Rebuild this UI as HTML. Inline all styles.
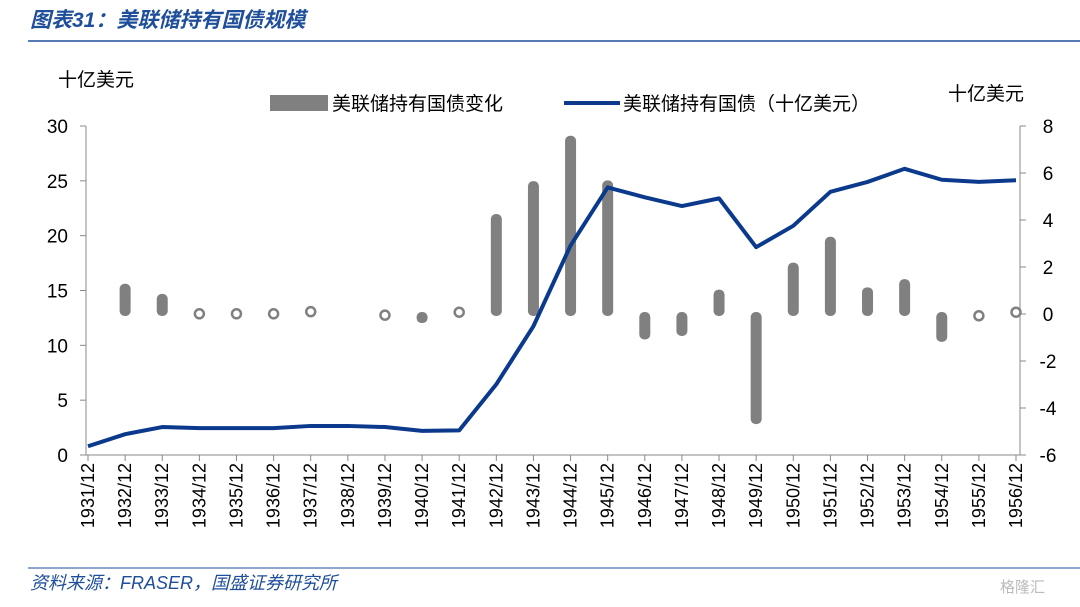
<!DOCTYPE html>
<html><head><meta charset="utf-8">
<style>
body{margin:0;background:#fff;width:1080px;height:602px;overflow:hidden;font-family:"Liberation Sans","Noto Sans CJK SC",sans-serif;}
svg text{font-family:"Liberation Sans","Noto Sans CJK SC",sans-serif;}
</style></head>
<body>
<svg id="chart" width="1080" height="602">
<text x="30" y="27" font-size="21" font-weight="bold" font-style="italic" fill="#1f4e9a">图表31：美联储持有国债规模</text>
<line x1="28" y1="41" x2="1080" y2="41" stroke="#1f4e9a" stroke-width="1.5"/>
<text x="58" y="86" font-size="19" fill="#000">十亿美元</text>
<text x="948" y="100" font-size="19" fill="#000">十亿美元</text>
<g>
<rect x="270" y="95" width="58" height="16" fill="#808080"/>
<text x="332" y="110" font-size="19">美联储持有国债变化</text>
<line x1="564" y1="103" x2="620" y2="103" stroke="#0b3a8d" stroke-width="4"/>
<text x="623" y="110" font-size="19">美联储持有国债（十亿美元）</text>
</g>
<g id="plot"></g>
<line x1="28" y1="568" x2="1080" y2="568" stroke="#1f4e9a" stroke-width="1"/>
<text x="30" y="589" font-size="18" font-style="italic" fill="#1f4e9a">资料来源：FRASER，国盛证券研究所</text>
<text x="1000" y="592" font-size="15" fill="#bbb">格隆汇</text>
</svg>
<script>
const categories=["1931/12","1932/12","1933/12","1934/12","1935/12","1936/12","1937/12","1938/12","1939/12","1940/12","1941/12","1942/12","1943/12","1944/12","1945/12","1946/12","1947/12","1948/12","1949/12","1950/12","1951/12","1952/12","1953/12","1954/12","1955/12","1956/12"];
const changeValues=[0,1.2,0.77,0.02,0.02,0.02,0.2,0,-0.1,-0.3,0.15,4.17,5.57,7.5,5.6,-1.0,-0.85,0.95,-4.6,2.1,3.2,1.05,1.4,-1.1,-0.15,0.15];
const holdingValues=[0.8,1.9,2.55,2.45,2.45,2.45,2.65,2.65,2.55,2.2,2.25,6.45,11.75,19.1,24.4,23.5,22.7,23.4,18.95,20.9,24.0,24.9,26.1,25.1,24.9,25.05];
const leftTicks=[0,5,10,15,20,25,30];
const rightTicks=[-6,-4,-2,0,2,4,6,8];
const NS="http://www.w3.org/2000/svg";
const g=document.getElementById('plot');
const X0=88,X1=1016,YT=126,YB=455;
const xS=i=>X0+i*(X1-X0)/(categories.length-1);
const yL=v=>YB-v*(YB-YT)/30;
const yR=v=>YB-(v+6)*(YB-YT)/14;
function mk(t,a){const e=document.createElementNS(NS,t);for(const k in a)e.setAttribute(k,a[k]);g.appendChild(e);return e;}
let e=mk('line',{x1:86,y1:YT,x2:86,y2:YB,stroke:'#888'});


e=mk('line',{x1:1020,y1:YT,x2:1020,y2:YB,stroke:'#888'});


e=mk('line',{x1:86,y1:YB,x2:1020,y2:YB,stroke:'#888'});


leftTicks.forEach(v=>{
 mk('line',{x1:80,y1:yL(v),x2:86,y2:yL(v),stroke:'#888'});
 const t=mk('text',{x:68,y:yL(v)+7,'font-size':19,'text-anchor':'end'});t.textContent=v;
 
 
});
rightTicks.forEach(v=>{
 mk('line',{x1:1020,y1:yR(v),x2:1026,y2:yR(v),stroke:'#888'});
 const t=mk('text',{x:1048,y:yR(v)+7,'font-size':19,'text-anchor':'middle'});t.textContent=v;
 
 
});
categories.forEach((c,i)=>{
 const x=xS(i);
 mk('line',{x1:x,y1:YB,x2:x,y2:YB+6,stroke:'#888'});
 const t=mk('text',{x:0,y:0,'font-size':18,'text-anchor':'end',transform:`translate(${x+6},${YB+8}) rotate(-90)`});t.textContent=c;
 
 
});
changeValues.forEach((v,i)=>{
 const x=xS(i),y0=yR(0),y1=yR(v);
 if(v===0)return;
 let b;
 if(Math.abs(y1-y0)<5){
  b=mk('circle',{cx:x,cy:(y0+y1)/2,r:4.5,fill:'#fff',stroke:'#808080','stroke-width':2.5});
 }else{
  const top=Math.min(y0,y1)-2,h=Math.abs(y1-y0)+4;
  b=mk('rect',{x:x-5.5,y:top,width:11,height:h,rx:5,fill:'#808080'});
 }
 
 
});
const p=mk('polyline',{points:holdingValues.map((v,i)=>xS(i)+','+yL(v)).join(' '),fill:'none',stroke:'#0b3a8d','stroke-width':4,'stroke-linejoin':'round'});


</script>
</body></html>
